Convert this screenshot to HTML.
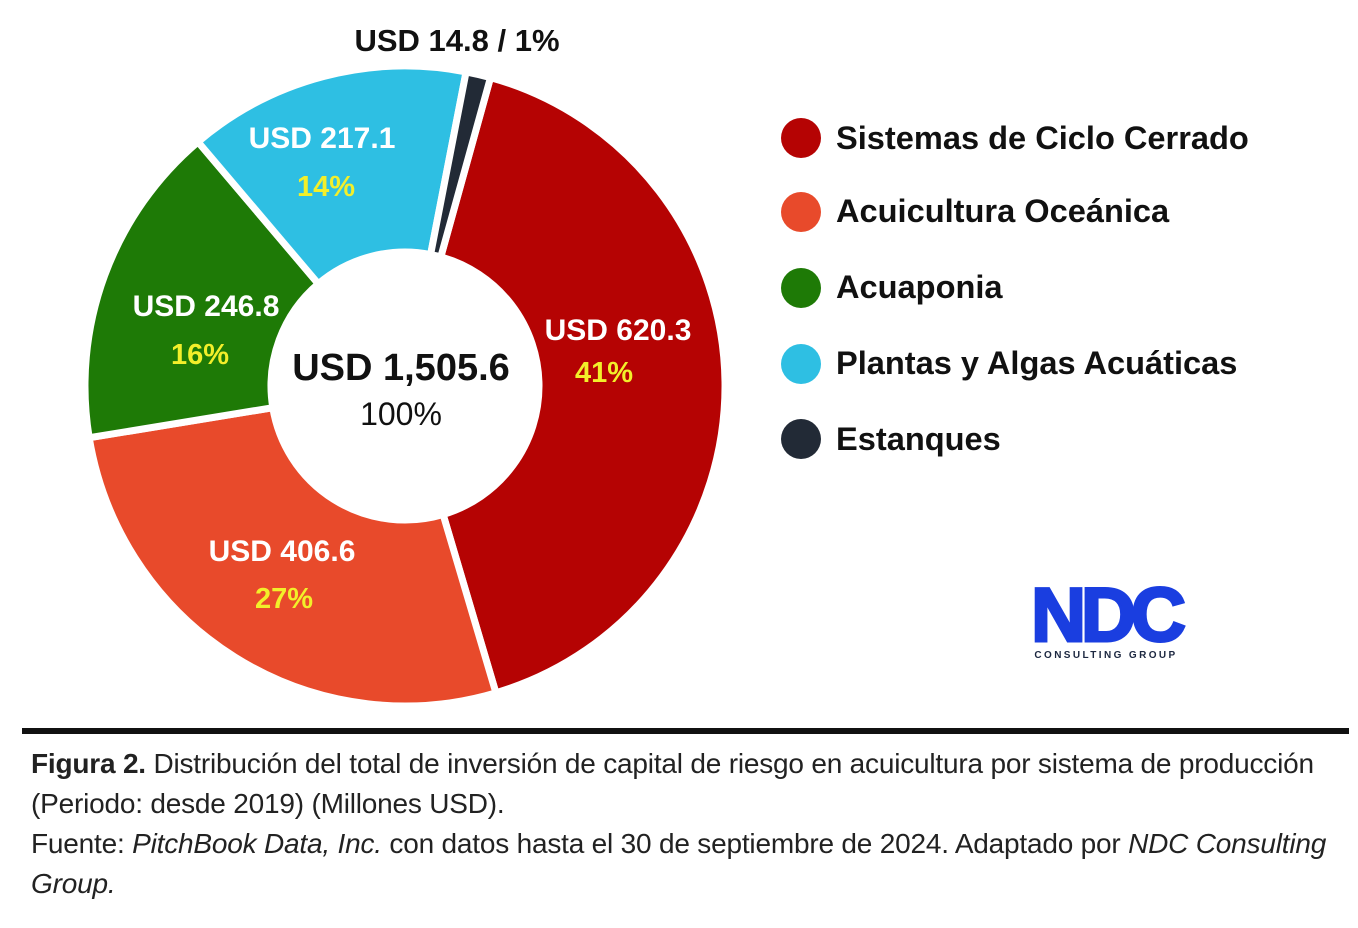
<!DOCTYPE html>
<html><head><meta charset="utf-8"><style>
body{margin:0;background:#fff;width:1358px;height:928px;overflow:hidden;font-family:"Liberation Sans",sans-serif}
svg{position:absolute;left:0;top:0}
.cap{position:absolute;left:31px;top:744px;font-family:"Liberation Sans",sans-serif;font-size:28px;line-height:40px;color:#222;transform:scaleX(1.0);transform-origin:left top;width:1320px;letter-spacing:-0.2px;white-space:nowrap}
</style></head><body>
<svg id="s" width="1358" height="928" xmlns="http://www.w3.org/2000/svg">
<g id="pie"></g>
<g font-family="Liberation Sans, sans-serif" font-weight="bold">
<text x="457" y="51" font-size="31" text-anchor="middle" fill="#111">USD 14.8 / 1%</text>
<text x="322" y="148" font-size="30" text-anchor="middle" fill="#fff">USD 217.1</text>
<text x="326" y="196" font-size="29" text-anchor="middle" fill="#f2ef2a">14%</text>
<text x="206" y="316" font-size="30" text-anchor="middle" fill="#fff">USD 246.8</text>
<text x="200" y="364" font-size="29" text-anchor="middle" fill="#f2ef2a">16%</text>
<text x="618" y="340" font-size="30" text-anchor="middle" fill="#fff">USD 620.3</text>
<text x="604" y="382" font-size="29" text-anchor="middle" fill="#f2ef2a">41%</text>
<text x="282" y="561" font-size="30" text-anchor="middle" fill="#fff">USD 406.6</text>
<text x="284" y="608" font-size="29" text-anchor="middle" fill="#f2ef2a">27%</text>
<text x="401" y="380" font-size="38" text-anchor="middle" fill="#111">USD 1,505.6</text>
<text x="401" y="425" font-size="32" font-weight="normal" text-anchor="middle" fill="#111">100%</text>
<circle cx="801" cy="138" r="20" fill="#b50303"/>
<circle cx="801" cy="212" r="20" fill="#e84a2b"/>
<circle cx="801" cy="288" r="20" fill="#1e7a06"/>
<circle cx="801" cy="364" r="20" fill="#2ebfe3"/>
<circle cx="801" cy="439" r="20" fill="#222a36"/>
<g font-size="32.6" fill="#111">
<text x="836" y="149">Sistemas de Ciclo Cerrado</text>
<text x="836" y="222">Acuicultura Oceánica</text>
<text x="836" y="298">Acuaponia</text>
<text x="836" y="374">Plantas y Algas Acuáticas</text>
<text x="836" y="450">Estanques</text>
</g>
<text x="1106" y="641" font-size="76" fill="#1a3ee0" stroke="#1a3ee0" stroke-width="3" text-anchor="middle" letter-spacing="-5">NDC</text>
<text x="1106" y="658" font-size="10" fill="#1c2740" text-anchor="middle" letter-spacing="2.4">CONSULTING GROUP</text>
</g>
<rect x="22" y="728" width="1327" height="6" fill="#111"/>
</svg>
<div class="cap"><b>Figura 2.</b> Distribución del total de inversión de capital de riesgo en acuicultura por sistema de producción<br>(Periodo: desde 2019) (Millones USD).<br>Fuente: <i>PitchBook Data, Inc.</i> con datos hasta el 30 de septiembre de 2024. Adaptado por <i>NDC Consulting</i><br><i>Group.</i></div>
<script>
var cx=405,cy=386,R=320,r=134;
var sl=[[15.5,163.5,"#b50303"],[163.5,260.7,"#e84a2b"],[260.7,319.7,"#1e7a06"],[319.7,371,"#2ebfe3"],[371,375.5,"#222a36"]];
function p(a,rad){a=a*Math.PI/180;return (cx+rad*Math.sin(a)).toFixed(1)+","+(cy-rad*Math.cos(a)).toFixed(1);}
var h="";
sl.forEach(function(s){var lg=(s[1]-s[0])>180?1:0;
h+='<path d="M'+p(s[0],R)+' A'+R+','+R+' 0 '+lg+' 1 '+p(s[1],R)+' L'+p(s[1],r)+' A'+r+','+r+' 0 '+lg+' 0 '+p(s[0],r)+' Z" fill="'+s[2]+'" stroke="#fff" stroke-width="7"/>';});
document.getElementById("pie").innerHTML=h;
</script>
</body></html>
